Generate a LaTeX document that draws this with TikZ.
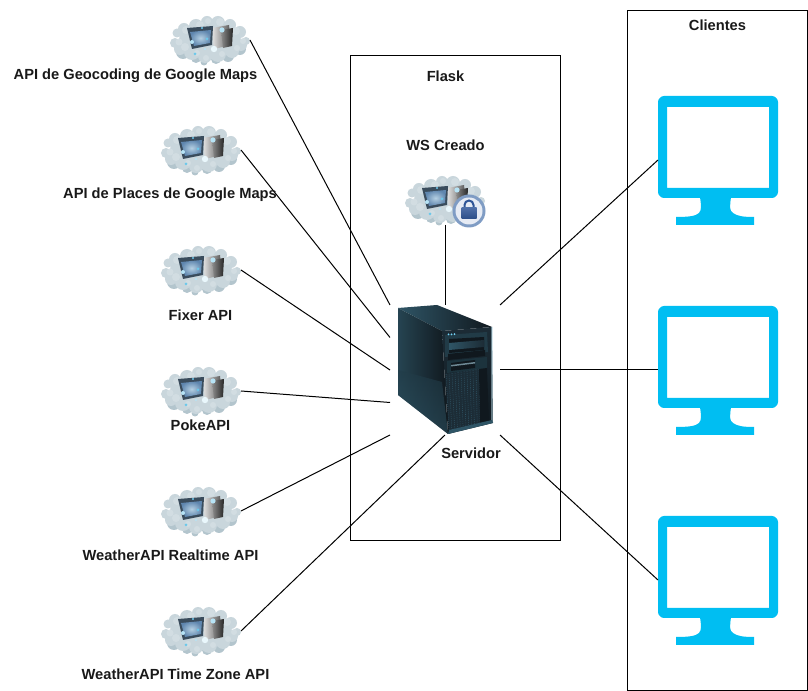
\documentclass[tikz,border=0pt]{standalone}
\usepackage{fontspec}
\setmainfont{Liberation Sans}
\usetikzlibrary{calc}
\definecolor{cloudA}{HTML}{C9D6DC}
\definecolor{cloudB}{HTML}{D5DFE4}
\definecolor{cloudC}{HTML}{B3C5CD}
\definecolor{glow}{HTML}{6CC8EA}
\definecolor{mon}{HTML}{00BEF2}
\definecolor{srvdark}{HTML}{10181E}
\definecolor{srvteal}{HTML}{2F5566}
\definecolor{srvmid}{HTML}{1C2C36}
\definecolor{scrA}{HTML}{3A4C5C}
\definecolor{scrB}{HTML}{B4CFE2}
\definecolor{scrC}{HTML}{5F86AE}
\definecolor{lockA}{HTML}{7F9CC4}
\definecolor{lockB}{HTML}{E6EBF4}
\definecolor{lockC}{HTML}{2F5597}
\tikzset{
  x=0.75pt,y=-0.75pt,
  lbl/.style={font=\bfseries\fontsize{11}{12}\selectfont,text=black!90,inner sep=0pt},
  frame/.style={draw=black,line width=0.75pt,fill=none},
  conn/.style={draw=black,line width=0.75pt},
  anchorbox/.style={inner sep=0pt,outer sep=0pt,minimum width=#1},
  cloudnode/.style={anchorbox=60pt,minimum height=37.5pt},
  monnode/.style={anchorbox=90pt,minimum height=97.5pt},
  servernode/.style={anchorbox=82.5pt,minimum height=97.5pt},
  pics/cloudicon/.style={code={
    \fill[cloudC] (-27,12) circle (7) (-14,18) circle (5) (-6,22) circle (3.5) (6,19) circle (5) (18,16) circle (6) (30,9) circle (6);
    \fill[cloudA] (-33,-7) circle (4.5) (-26,-11) circle (6) (-14,-14) circle (7) (-3,-18) circle (6) (8,-17) circle (7) (20,-15) circle (6) (30,-8) circle (6) (36,1) circle (4)
      (-35,3) circle (5) (-30,9) circle (6) (-18,12) circle (8) (-5,16) circle (7) (8,14) circle (8) (22,11) circle (7) (31,5) circle (6) (0,0) ellipse (31 and 18);
    \fill[cloudB,opacity=.8] (-24,-10) circle (4) (-10,-15) circle (4) (-2,-19) circle (3) (10,-18) circle (4) (26,-9) circle (4) (33,1) circle (3)
      (-31,2) circle (3.5) (-25,7) circle (4) (-13,13) circle (3) (-4,18) circle (3) (12,14) circle (3) (27,8) circle (3);
    \shade[left color=white!78!gray,right color=gray!65!black] (2,-12) -- (19,-15) -- (21,5) -- (4,9) -- cycle;
    \shade[left color=black!45,right color=black!85] (11,-10) -- (23,-12) -- (22,6) -- (13,8) -- cycle;
    \fill[scrA] (-23,-12) -- (3,-14) -- (2,5) -- (-18,9) -- cycle;
    \shade[inner color=scrB,outer color=scrC] (-20,-8) -- (1,-10) -- (0,3) -- (-16,6) -- cycle;
    \fill[glow!50!white] (12,-10) circle (2.6) (-5,9) circle (1.2) (-18,2) circle (2);
    \fill[white!85!glow] (4,9) circle (3.2);
    \fill[glow] (-15,14) circle (1.5) (-3,-1) circle (1.5) (-8,-12) circle (1.2);
  }},
  pics/lockicon/.style={code={
    \fill[lockA] (0,0) circle (16.5);
    \fill[lockB] (0,0) circle (13.5);
    \draw[line width=1.5pt,draw=lockC] (-4.5,-2) -- (-4.5,-6) arc[start angle=180,end angle=360,radius=4.5] -- (4.5,-2);
    \shade[top color=lockC!85!white,bottom color=lockC!90!black] (-7.5,-3) rectangle (7.5,8);
  }},
  pics/monitoricon/.style={code={
    \fill[mon,even odd rule]
      (-60,-58) .. controls (-60,-61) and (-57,-64) .. (-54,-64) -- (54,-64)
      .. controls (57,-64) and (60,-61) .. (60,-58) -- (60,32)
      .. controls (60,35) and (57,38) .. (54,38) -- (-54,38)
      .. controls (-57,38) and (-60,35) .. (-60,32) -- cycle
      (-51,-53) rectangle (51,28);
    \fill[mon] (-18,37) -- (13,37) .. controls (12,45) and (11,51) .. (15,53) .. controls (19,56) and (25,57) .. (36,57)
      -- (36,65) -- (-42,65) -- (-42,57) .. controls (-29,57) and (-22,56) .. (-19,53) .. controls (-16,50) and (-17,44) .. (-18,37) -- cycle;
  }},
  pics/servericon/.style={code={
    % coordinates relative to the server node centre (445,370)
    \shade[left color=srvteal,right color=srvdark] (-47,-62) -- (-8,-65) -- (47,-43) -- (-3,-39) -- cycle;
    \shade[left color=srvteal!80!black,right color=srvdark] (-47,-62) -- (-3,-39) -- (3,64) -- (-47,25) -- cycle;
    \shade[top color=srvteal!70!black,bottom color=srvteal,opacity=.55] (-47,0) -- (-3,12) -- (3,64) -- (-47,25) -- cycle;
    \shade[top color=srvmid,bottom color=srvdark] (-3,-39) -- (47,-43) -- (48,53) -- (3,64) -- cycle;
    \fill[white!80!cyan,opacity=.45] (46,-43) rectangle (47.5,53);
    \fill[srvteal!70!black] (0,-35) -- (42,-38) -- (43,-18) -- (0,-13) -- cycle;
    \fill[srvdark] (4,-31) -- (39,-33) -- (39,-20) -- (4,-17) -- cycle;
    \shade[left color=srvteal,right color=srvmid] (4,-27) -- (39,-30) -- (39,-23) -- (4,-20) -- cycle;
    \fill[srvdark] (3,-16) -- (40,-20) -- (40,-14) -- (3,-10) -- cycle;
    \fill[srvteal!60!black] (2,-9) -- (42,-13) -- (42,-1) -- (2,3) -- cycle;
    \fill[srvdark] (6,-7) -- (30,-10) -- (30,-2) -- (6,1) -- cycle;
    \fill[srvteal!70!white] (6,-5) -- (30,-8) -- (30,-6.5) -- (6,-3.5) -- cycle;
    \fill[cyan!55!white] (3.5,-35.5) circle (1) (6.5,-35.7) circle (1) (9.5,-35.9) circle (1);
    \fill[srvmid] (1,4) -- (34,-1) -- (35,53) -- (4,60) -- cycle;
    \foreach \i in {0,...,11} {
      \draw[srvteal,line width=0.4pt,dash pattern=on 0.7pt off 0.9pt] ($(1,4)!{\i/11}!(34,-1)$) -- ($(4,60)!{\i/11}!(35,53)$);
    }
    \fill[srvdark] (34,-1) -- (42,-2) -- (44,53) -- (35,53) -- cycle;
    \fill[srvteal] (3,64) -- (48,53) -- (47,50) -- (4,60) -- cycle;
  }}
}
\begin{document}
\begin{tikzpicture}
\useasboundingbox (0,0) rectangle (808,691);

% containers
\node[frame,inner sep=0pt,minimum width=157.5pt,minimum height=363.75pt] (flask) at (455.5,298) {};
\node[frame,inner sep=0pt,minimum width=135pt,minimum height=510pt] (clients) at (717.5,350.5) {};

% icon nodes
\node[cloudnode] (c1) at (210,40) {};
\node[cloudnode] (c2) at (201,150) {};
\node[cloudnode] (c3) at (201,270) {};
\node[cloudnode] (c4) at (201,391) {};
\node[cloudnode] (c5) at (201,511) {};
\node[cloudnode] (c6) at (201,631) {};
\node[cloudnode] (ws) at (445,200) {};
\node[servernode] (srv) at (445,370) {};
\node[monnode] (m1) at (718,160) {};
\node[monnode] (m2) at (718,370) {};
\node[monnode] (m3) at (718,580) {};

\foreach \n in {c1,c2,c3,c4,c5,c6,ws} \pic at (\n) {cloudicon};
\pic at (469,211) {lockicon};
\pic at (srv) {servericon};
\foreach \n in {m1,m2,m3} \pic at (\n) {monitoricon};

% points on the left side of the server
\coordinate (s1) at ($(srv.north west)!0.25!(srv.south west)$);
\coordinate (s2) at ($(srv.north west)!0.50!(srv.south west)$);
\coordinate (s3) at ($(srv.north west)!0.75!(srv.south west)$);

% connectors
\draw[conn] (c1.east) -- (srv.north west);
\draw[conn] (c2.east) -- (s1);
\draw[conn] (c3.east) -- (s2);
\draw[conn] (c4.east) -- (s3);
\draw[conn] (c5.east) -- (srv.south west);
\draw[conn] (c6.east) -- (srv.south);
\draw[conn] (ws.south) -- (srv.north);
\draw[conn] (srv.north east) -- (m1.west);
\draw[conn] (srv.east) -- (m2.west);
\draw[conn] (srv.south east) -- (m3.west);

% labels
\node[lbl] (t1) at (135.5,76) {API de Geocoding de Google Maps};
\node[lbl] (t2) at (170,195) {API de Places de Google Maps};
\node[lbl] (t3) at (200.5,315) {Fixer API};
\node[lbl] (t4) at (200.5,425) {PokeAPI};
\node[lbl] (t5) at (170.5,555) {WeatherAPI Realtime API};
\node[lbl] (t6) at (175.5,674) {WeatherAPI Time Zone API};
\node[lbl] (t7) at (445.5,76) {Flask};
\node[lbl] (t8) at (445.5,145) {WS Creado};
\node[lbl] (t9) at (471,453) {Servidor};
\node[lbl] (t10) at (717.5,25) {Clientes};
\end{tikzpicture}
\end{document}
